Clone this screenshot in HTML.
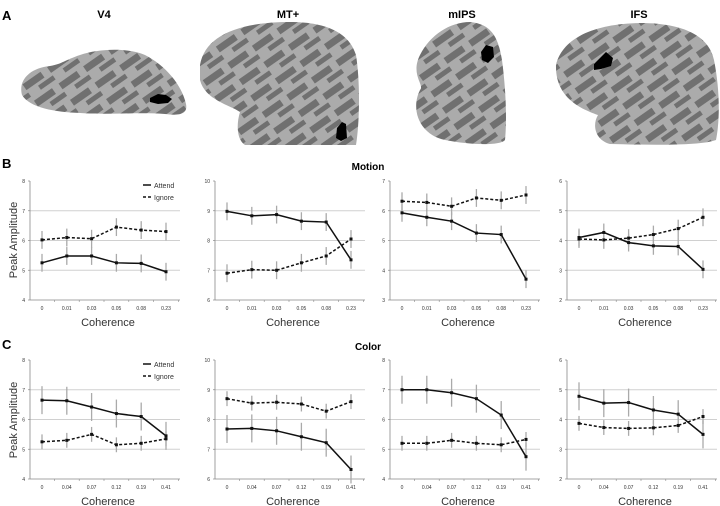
<!DOCTYPE html>
<html><head><meta charset="utf-8">
<style>
body{margin:0;background:#fff;}
svg{display:block;font-family:"Liberation Sans",sans-serif;}
</style></head>
<body>
<svg id="fig" width="720" height="506" viewBox="0 0 720 506">
 <g>
  <text x="2" y="20" font-size="13" font-weight="bold">A</text>
  <text x="104" y="18" font-size="11" font-weight="bold" text-anchor="middle">V4</text>
  <text x="288" y="18" font-size="11" font-weight="bold" text-anchor="middle">MT+</text>
  <text x="462" y="18" font-size="11" font-weight="bold" text-anchor="middle">mIPS</text>
  <text x="639" y="18" font-size="11" font-weight="bold" text-anchor="middle">IFS</text>
  <defs>
   <pattern id="sulc" width="30" height="20" patternUnits="userSpaceOnUse" patternTransform="rotate(-35)">
    <rect width="30" height="20" fill="#ababab"/>
    <rect x="0" y="2" width="22" height="7" fill="#707070"/>
    <rect x="12" y="12" width="18" height="5" fill="#707070"/>
   </pattern>
  </defs>
  <path d="M22,95 C18,80 30,68 50,66 C62,64 65,60 80,55 C100,48 130,48 145,55 C165,65 182,85 186,104 C188,114 180,116 165,114 C140,112 110,115 80,113 C55,112 30,108 22,95Z" fill="url(#sulc)"/>
  <path d="M150,98 l8,-4 l8,1 l6,4 l-4,4 l-10,1 l-8,-2Z" fill="#000"/>
  <path d="M200,65 C205,35 240,22 290,22 C330,22 350,35 356,55 C360,80 360,120 356,145 L245,145 C237,140 236,125 240,112 C230,105 205,100 200,80Z" fill="url(#sulc)"/>
  <path d="M337,128 l5,-6 l4,2 l1,14 l-6,3 l-5,-3Z" fill="#000"/>
  <path d="M420,55 C430,35 450,22 470,22 C490,24 498,35 502,60 C506,90 507,120 505,140 C500,146 470,145 445,140 C420,135 410,110 420,90 C425,85 410,75 420,55Z" fill="url(#sulc)"/>
  <path d="M481,52 l5,-7 l7,2 l1,10 l-6,6 l-6,-3Z" fill="#000"/>
  <path d="M556,65 C562,40 590,24 640,23 C690,23 710,40 714,60 C720,90 720,120 716,140 C700,146 650,145 610,144 C595,140 592,125 598,115 C585,110 555,100 556,65Z" fill="url(#sulc)"/>
  <path d="M594,64 l8,-8 l4,-4 l7,6 l-2,8 l-10,3 l-7,1Z" fill="#000"/>
 </g>
 <text x="2" y="168" font-size="13" font-weight="bold">B</text>
 <text x="368" y="170" font-size="10" font-weight="bold" text-anchor="middle">Motion</text>
 <text x="2" y="349" font-size="13" font-weight="bold">C</text>
 <text x="368" y="350" font-size="10" font-weight="bold" text-anchor="middle">Color</text>
 <text transform="translate(17,240) rotate(-90)" font-size="11" fill="#333" text-anchor="middle">Peak Amplitude</text>
 <text transform="translate(17,420) rotate(-90)" font-size="11" fill="#333" text-anchor="middle">Peak Amplitude</text>
 <g id="charts"></g>
</svg>
<script>
const motionCats = ["0","0.01","0.03","0.05","0.08","0.23"];
const colorCats = ["0","0.04","0.07","0.12","0.19","0.41"];
const motionYMin = [4,6,3,2];
const colorYMin = [4,6,4,2];
const motionAttend = [
 [5.25,5.48,5.48,5.25,5.23,4.95],
 [8.98,8.83,8.87,8.65,8.62,7.35],
 [5.93,5.78,5.65,5.25,5.2,3.7],
 [4.1,4.27,3.93,3.82,3.8,3.03]];
const motionIgnore = [
 [6.02,6.1,6.06,6.45,6.35,6.3],
 [6.9,7.02,7.0,7.25,7.48,8.05],
 [6.32,6.28,6.15,6.43,6.35,6.53],
 [4.05,4.02,4.08,4.2,4.4,4.78]];
const motionAttendErr = [[0.3,0.3,0.3,0.3,0.3,0.3],[0.3,0.3,0.3,0.3,0.3,0.3],[0.3,0.3,0.3,0.3,0.3,0.3],[0.3,0.3,0.3,0.3,0.3,0.3]];
const motionIgnoreErr = [[0.3,0.3,0.3,0.3,0.3,0.3],[0.3,0.3,0.3,0.3,0.3,0.3],[0.3,0.3,0.3,0.3,0.3,0.3],[0.3,0.3,0.3,0.3,0.3,0.3]];
const colorAttend = [
 [6.65,6.63,6.42,6.2,6.1,5.45],
 [7.68,7.7,7.62,7.42,7.22,6.32],
 [7.0,7.0,6.9,6.7,6.15,4.75],
 [4.78,4.55,4.57,4.32,4.18,3.5]];
const colorIgnore = [
 [5.25,5.3,5.5,5.15,5.2,5.35],
 [8.7,8.55,8.58,8.52,8.28,8.6],
 [5.2,5.2,5.3,5.2,5.15,5.33],
 [3.87,3.73,3.7,3.72,3.8,4.1]];
const colorAttendErr = [[0.47,0.47,0.47,0.47,0.47,0.47],[0.47,0.47,0.47,0.47,0.47,0.47],[0.47,0.47,0.47,0.47,0.47,0.47],[0.47,0.47,0.47,0.47,0.47,0.47]];
const colorIgnoreErr = [[0.25,0.25,0.25,0.25,0.25,0.25],[0.25,0.25,0.25,0.25,0.25,0.25],[0.25,0.25,0.25,0.25,0.25,0.25],[0.25,0.25,0.25,0.25,0.25,0.25]];
const regions = ["v4","mt","mips","ifs"];

const NS="http://www.w3.org/2000/svg";
const root=document.getElementById('charts');
const lefts=[30,215,390,567];
function mk(tag,attrs,parent){const e=document.createElementNS(NS,tag);for(const k in attrs)e.setAttribute(k,attrs[k]);(parent||root).appendChild(e);return e;}

function drawChart(col,top,bottom,yMin,cats,att,ign,attE,ignE,prefix,legend){
 const L=lefts[col],W=150;
 const g=mk('g',{});
 
 
 const y=v=>bottom-(v-yMin)/4*(bottom-top);
 const x=i=>L+12+i*24.8;
 for(let t=0;t<=4;t++){
  const v=yMin+t,yy=y(v);
  if(t>0&&t<4){const gl=mk('line',{x1:L,x2:L+W,y1:yy,y2:yy,stroke:'#d0d0d0','stroke-width':1},g);
   }
  const tl=mk('text',{x:L-5,y:yy+2,'font-size':5,'text-anchor':'end',fill:'#333'},g);tl.textContent=v;
  
  mk('line',{x1:L-2,x2:L,y1:yy,y2:yy,stroke:'#888','stroke-width':0.7},g);
 }
 const ax=mk('line',{x1:L,x2:L,y1:top,y2:bottom,stroke:'#888','stroke-width':0.8},g);
 
 const xa=mk('line',{x1:L,x2:L+W,y1:bottom,y2:bottom,stroke:'#888','stroke-width':0.8},g);
 
 cats.forEach((c,i)=>{
  mk('line',{x1:x(i)+12.4,x2:x(i)+12.4,y1:bottom,y2:bottom+2,stroke:'#888','stroke-width':0.6},g);
  const t=mk('text',{x:x(i),y:bottom+10,'font-size':5,'text-anchor':'middle',fill:'#333'},g);t.textContent=c;
  
 });
 const xt=mk('text',{x:L+W/2+3,y:bottom+26,'font-size':11,'text-anchor':'middle',fill:'#333'},g);xt.textContent='Coherence';
 
 [[att,attE,'attend'],[ign,ignE,'ignore']].forEach(([vals,errs,nm])=>{
  vals.forEach((v,i)=>{
   const eb=mk('line',{x1:x(i),x2:x(i),y1:y(v-errs[i]),y2:y(v+errs[i]),stroke:'#aaa','stroke-width':1.3},g);
   
  });
 });
 [[att,'attend',''],[ign,'ignore','3,2']].forEach(([vals,nm,dash])=>{
  const p=mk('polyline',{points:vals.map((v,i)=>x(i)+','+y(v)).join(' '),fill:'none',stroke:'#111','stroke-width':1.5,'stroke-dasharray':dash},g);
  
  vals.forEach((v,i)=>{const m=mk('rect',{x:x(i)-1.5,y:y(v)-1.5,width:3,height:3,fill:'#111'},g);
   });
 });
 if(legend){
  const lg=mk('g',{},g);
  
  mk('line',{x1:L+113,x2:L+121,y1:top+4,y2:top+4,stroke:'#111','stroke-width':1.5},lg);
  const a=mk('text',{x:L+124,y:top+7,'font-size':7,fill:'#333'},lg);a.textContent='Attend';
  
  mk('line',{x1:L+113,x2:L+121,y1:top+16,y2:top+16,stroke:'#111','stroke-width':1.5,'stroke-dasharray':'3,2'},lg);
  const b=mk('text',{x:L+124,y:top+19,'font-size':7,fill:'#333'},lg);b.textContent='Ignore';
  
 }
}
for(let c=0;c<4;c++){
 drawChart(c,181,300,motionYMin[c],motionCats,motionAttend[c],motionIgnore[c],motionAttendErr[c],motionIgnoreErr[c],'motion-'+regions[c],c===0);
 drawChart(c,360,479,colorYMin[c],colorCats,colorAttend[c],colorIgnore[c],colorAttendErr[c],colorIgnoreErr[c],'color-'+regions[c],c===0);
}
</script>
</body></html>
